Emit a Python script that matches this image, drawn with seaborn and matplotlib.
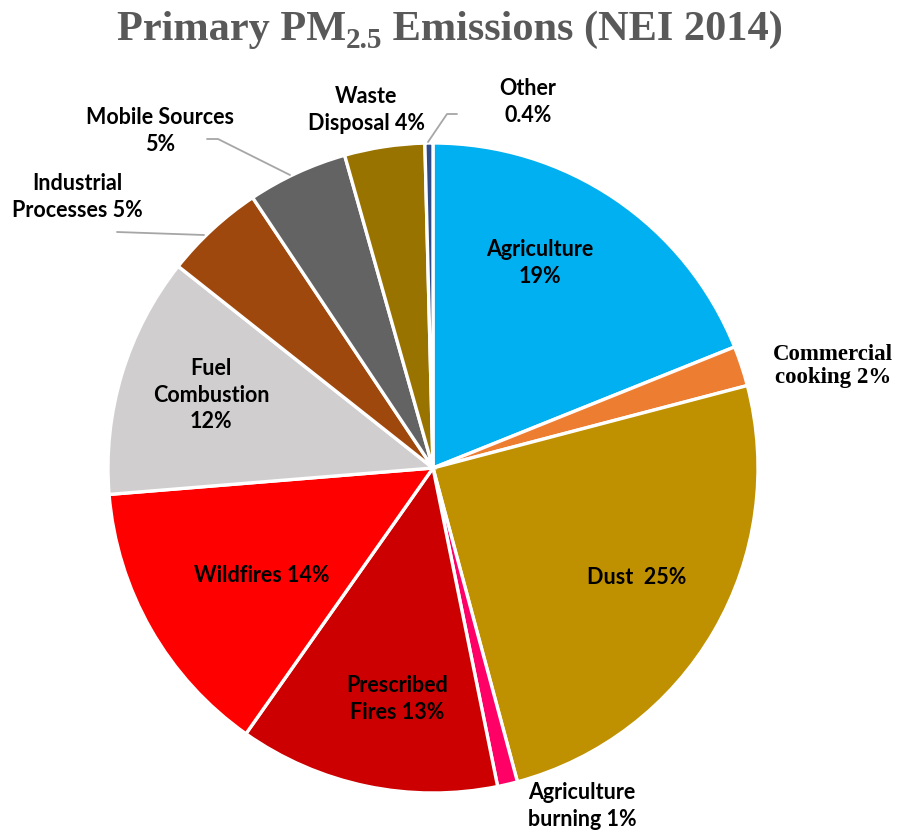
import matplotlib
matplotlib.use("Agg")
import matplotlib.pyplot as plt
import seaborn as sns

# Primary PM2.5 emission shares by source sector (NEI 2014), clockwise from the top
categories = ["Agriculture", "Commercial cooking", "Dust", "Agriculture burning",
              "Prescribed Fires", "Wildfires", "Fuel Combustion",
              "Industrial Processes", "Mobile Sources", "Waste Disposal", "Other"]
shares = [19, 2, 25, 1, 13, 14, 12, 5, 5, 4, 0.4]
label_texts = ["Agriculture\n19%", "Commercial\ncooking 2%", "Dust  25%",
               "Agriculture\nburning 1%", "Prescribed\nFires 13%", "Wildfires 14%",
               "Fuel\nCombustion\n12%", "Industrial\nProcesses 5%",
               "Mobile Sources\n5%", "Waste\nDisposal 4%", "Other\n0.4%"]
colors = ["#00B0F0", "#ED7D31", "#BF9000", "#FF0066", "#CC0000", "#FF0000",
          "#D0CECE", "#9E480E", "#636363", "#997300", "#2E4A87"]
title_parts = ["Primary PM", "2.5", " Emissions (NEI 2014)"]

sns.set_theme(style="white")

W, H = 900, 835
fig = plt.figure(figsize=(W / 100, H / 100), dpi=100)

# pie centre and radius in pixels
CX, CY, R = 433, 468, 325
ax = fig.add_axes([(CX - R) / W, (H - CY - R) / H, 2 * R / W, 2 * R / H])
ax.pie(shares, colors=colors, startangle=90, counterclock=False, radius=1,
       wedgeprops=dict(edgecolor="white", linewidth=2.4))
ax.set_xlim(-1, 1)
ax.set_ylim(-1, 1)
ax.set_aspect("equal")
ax.axis("off")


def to_data(px, py):
    return (px - CX) / R, (CY - py) / R


# label centres (pixels)
label_pos = [(540, 263), (833, 366), (637, 578), (582, 806), (397, 699),
             (262, 575), (211, 395), (77, 197), (160, 131), (366, 110),
             (528, 102)]
serif_labels = {"Commercial cooking"}

for cat, txt, (px, py) in zip(categories, label_texts, label_pos):
    x, y = to_data(px, py)
    if cat in serif_labels:
        ax.text(x, y, txt, ha="center", va="center", fontsize=16.5,
                fontweight="bold", family="Liberation Serif", color="black",
                linespacing=1.1, clip_on=False)
    else:
        ax.text(x, y, txt, ha="center", va="center", fontsize=15.5,
                fontweight="bold", family="Lato", color="black",
                linespacing=1.3, clip_on=False)

# leader lines for the small outer slices
leaders = [
    [(117, 232), (204, 235)],
    [(207, 139), (218, 139), (290, 175)],
    [(457, 114), (447, 114), (428, 142)],
]
for pts in leaders:
    xs, ys = zip(*[to_data(px, py) for px, py in pts])
    ax.plot(xs, ys, color="#A6A6A6", linewidth=1.3, clip_on=False)

# title built from pieces so the subscript sits low like a typeset PM2.5
base_y = 40  # baseline, pixels from top
sub_drop = 8
title_style = dict(fontweight="bold", family="Liberation Serif",
                   color="#595959", va="baseline", ha="left")
sizes = [30.5, 21, 30.5]
drops = [0, sub_drop, 0]
pieces = [fig.text(0, 1 - (base_y + d) / H, t, fontsize=s, **title_style)
          for t, s, d in zip(title_parts, sizes, drops)]
renderer = fig.canvas.get_renderer()
widths = [p.get_window_extent(renderer).width for p in pieces]
x = (W - sum(widths)) / 2
for p, w in zip(pieces, widths):
    p.set_x(x / W)
    x += w

fig.savefig("out.png", dpi=100, facecolor="white")
